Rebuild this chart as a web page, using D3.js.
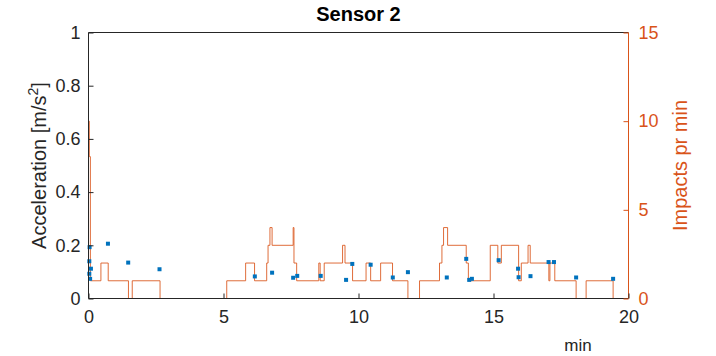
<!DOCTYPE html>
<html lang="en">
<head>
  <meta charset="UTF-8">
  <title>Sensor 2</title>
  <script src="https://d3js.org/d3.v7.min.js"></script>
  <style>
    body { margin: 0; background: #fff; font-family: "Liberation Sans", Arial, sans-serif; }
    svg { display: block; }
  </style>
</head>
<body>
  <svg width="716" height="356"></svg>
  <script>
    // impacts per minute (step function, change points)
    const stepT = [0, 0.03, 0.07, 0.46, 0.73, 1.48, 1.62, 2.65, 5.12, 5.82, 6.15, 6.60, 6.65, 6.72, 6.80,
      7.58, 7.61, 7.71, 8.53, 8.58, 8.73, 9.41, 9.50, 9.78, 10.28, 10.45, 10.82, 11.26, 11.83, 12.26,
      13.00, 13.09, 13.15, 13.30, 13.99, 14.07, 14.88, 15.16, 15.29, 15.93, 16.03, 16.28, 16.36,
      17.05, 17.09, 17.27, 18.06, 18.43, 19.43, 20];
    const stepV = [10, 8, 1, 2, 1, 0, 1, 0, 1, 2, 1, 2, 3, 4, 3,
      4, 2, 1, 2, 1, 2, 3, 2, 1, 2, 1, 2, 1, 0, 1,
      2, 3, 4, 3, 2, 1, 3, 2, 3, 1, 2, 3, 2,
      1, 2, 1, 0, 1, 0, 0];

    // acceleration peaks
    const accT = [0.04, 0.03, 0.09, 0.03, 0.06, 0.72, 1.47, 2.63, 6.16, 6.80, 7.58, 7.73, 8.60, 9.54, 9.77,
      10.45, 11.27, 11.83, 13.27, 13.99, 14.10, 14.20, 15.19, 15.91, 15.93, 16.37, 17.04, 17.24, 18.06, 19.43];
    const accV = [0.193, 0.14, 0.112, 0.093, 0.074, 0.206, 0.135, 0.110, 0.083, 0.097, 0.078, 0.085, 0.085, 0.070, 0.130,
      0.127, 0.079, 0.099, 0.079, 0.149, 0.070, 0.074, 0.144, 0.112, 0.080, 0.084, 0.137, 0.137, 0.079, 0.074];

    const xTicks = [0, 5, 10, 15, 20];
    const leftTicks = [0, 0.2, 0.4, 0.6, 0.8, 1];
    const rightTicks = [0, 5, 10, 15];

    const svg = d3.select("svg");
    const m = { left: 88.5, right: 628.5, top: 32.5, bottom: 298.5 };
    const dark = "#262626", orange = "#D95319", blue = "#0072BD";
    const font = "Liberation Sans, Arial, sans-serif";

    const x = d3.scaleLinear().domain([0, 20]).range([m.left, m.right]);
    const yL = d3.scaleLinear().domain([0, 1]).range([m.bottom, m.top]);
    const yR = d3.scaleLinear().domain([0, 15]).range([m.bottom, m.top]);

    // impacts line
    const line = d3.line()
      .x((d, i) => x(stepT[i]))
      .y(d => yR(d))
      .curve(d3.curveStepAfter);
    svg.append("path")
      .attr("d", line(stepV))
      .attr("fill", "none")
      .attr("stroke", orange)
      .attr("stroke-opacity", 0.85)
      .attr("stroke-width", 1);

    // acceleration markers
    svg.selectAll("rect.pt")
      .data(accV)
      .join("rect")
      .attr("class", "pt")
      .attr("x", (d, i) => x(accT[i]) - 2)
      .attr("y", d => yL(d) - 2)
      .attr("width", 4)
      .attr("height", 4)
      .attr("fill", blue);

    // box
    svg.append("line").attr("x1", m.left).attr("x2", m.right).attr("y1", m.top).attr("y2", m.top)
      .attr("stroke", dark).attr("stroke-width", 1);
    svg.append("line").attr("x1", m.left).attr("x2", m.right).attr("y1", m.bottom).attr("y2", m.bottom)
      .attr("stroke", dark).attr("stroke-width", 1);
    svg.append("line").attr("x1", m.left).attr("x2", m.left).attr("y1", m.top).attr("y2", m.bottom)
      .attr("stroke", dark).attr("stroke-width", 1);
    svg.append("line").attr("x1", m.right).attr("x2", m.right).attr("y1", m.top).attr("y2", m.bottom)
      .attr("stroke", orange).attr("stroke-width", 1);

    // x axis
    const gx = svg.append("g").attr("transform", `translate(0,${m.bottom})`)
      .call(d3.axisBottom(x).tickValues(xTicks).tickSize(-5).tickPadding(12));
    gx.select(".domain").remove();
    gx.selectAll("line").attr("stroke", dark);
    gx.selectAll("text").attr("fill", dark).attr("font-size", 18).attr("font-family", font);

    // left axis
    const gl = svg.append("g").attr("transform", `translate(${m.left},0)`)
      .call(d3.axisLeft(yL).tickValues(leftTicks).tickFormat(d => d === 0 || d === 1 ? d : d3.format(".1f")(d)).tickSize(-5).tickPadding(8));
    gl.select(".domain").remove();
    gl.selectAll("line").attr("stroke", dark);
    gl.selectAll("text").attr("fill", dark).attr("font-size", 18).attr("font-family", font);

    // right axis
    const gr = svg.append("g").attr("transform", `translate(${m.right},0)`)
      .call(d3.axisRight(yR).tickValues(rightTicks).tickSize(-5).tickPadding(10));
    gr.select(".domain").remove();
    gr.selectAll("line").attr("stroke", orange);
    gr.selectAll("text").attr("fill", orange).attr("font-size", 18).attr("font-family", font);

    // labels
    svg.append("text")
      .attr("x", (m.left + m.right) / 2).attr("y", 21)
      .attr("text-anchor", "middle").attr("font-weight", "bold")
      .attr("font-size", 20).attr("fill", "#000")
      .text("Sensor 2");

    const ylab = svg.append("text")
      .attr("transform", `translate(46,${(m.top + m.bottom) / 2}) rotate(-90)`)
      .attr("text-anchor", "middle").attr("font-size", 20).attr("fill", dark);
    ylab.append("tspan").text("Acceleration [m/s");
    ylab.append("tspan").attr("font-size", 14).attr("dy", -8).text("2");
    ylab.append("tspan").attr("dy", 8).text("]");

    svg.append("text")
      .attr("transform", `translate(687,${(m.top + m.bottom) / 2}) rotate(-90)`)
      .attr("text-anchor", "middle").attr("font-size", 20).attr("fill", orange)
      .text("Impacts pr min");

    svg.append("text")
      .attr("x", 578).attr("y", 351)
      .attr("text-anchor", "middle").attr("font-size", 17).attr("fill", dark)
      .text("min");
  </script>
</body>
</html>
